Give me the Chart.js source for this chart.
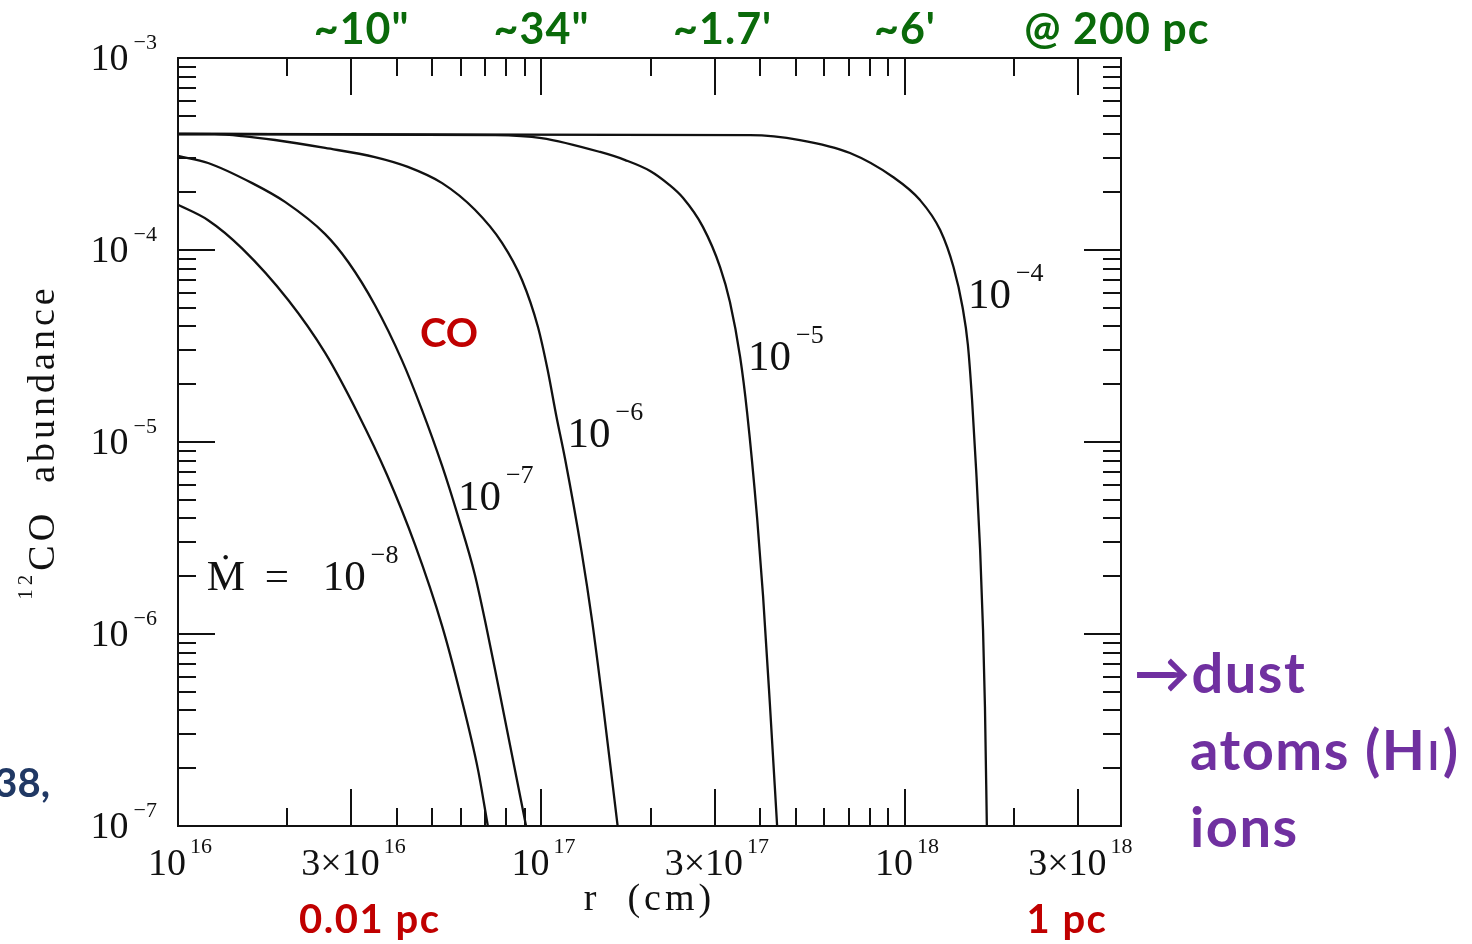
<!DOCTYPE html>
<html>
<head>
<meta charset="utf-8">
<title>12CO abundance vs radius</title>
<script src="https://cdn.jsdelivr.net/npm/chart.js@4.4.1/dist/chart.umd.min.js"></script>
<style>
  html, body { margin: 0; padding: 0; background: #ffffff; }
  #wrap { position: relative; width: 1472px; height: 944px; }
</style>
</head>
<body>
<div id="wrap"><canvas id="chart" width="1472" height="944"></canvas></div>
<script>
// Radius r (cm) and 12CO fractional abundance, one pair of arrays per mass-loss rate
const radius_m8 = [1.00e16, 1.21e16, 1.50e16, 2.01e16, 2.54e16, 3.13e16, 3.76e16, 4.49e16, 5.33e16, 5.97e16, 6.69e16, 7.12e16];
const abund_m8  = [1.72e-4, 1.43e-4, 1.02e-4, 5.49e-5, 2.91e-5, 1.40e-5, 6.73e-6, 2.91e-6, 1.10e-6, 4.93e-7, 1.96e-7, 1.00e-7];

const radius_m7 = [1.00e16, 1.21e16, 1.60e16, 1.97e16, 2.54e16, 2.94e16, 3.48e16, 4.13e16, 4.69e16, 5.33e16, 5.89e16, 6.56e16, 7.08e16, 7.55e16, 9.07e16];
const abund_m7  = [3.09e-4, 2.84e-4, 2.23e-4, 1.78e-4, 1.21e-4, 8.66e-5, 5.17e-5, 2.67e-5, 1.47e-5, 7.50e-6, 4.12e-6, 2.03e-6, 1.05e-6, 5.76e-7, 1.00e-7];

const radius_m6 = [1.00e16, 1.26e16, 1.50e16, 1.85e16, 2.54e16, 3.48e16, 4.29e16, 5.33e16, 6.56e16, 7.79e16, 8.84e16, 9.78e16, 1.04e17, 1.10e17, 1.16e17, 1.29e17, 1.38e17, 1.48e17, 1.62e17];
const abund_m6  = [4.02e-4, 4.01e-4, 3.92e-4, 3.74e-4, 3.40e-4, 3.05e-4, 2.71e-4, 2.23e-4, 1.62e-4, 1.09e-4, 6.98e-5, 3.97e-5, 2.37e-5, 1.35e-5, 8.25e-6, 2.67e-6, 1.15e-6, 4.12e-7, 1.00e-7];

const radius_m5 = [1.00e16, 7.45e16, 1.00e17, 1.45e17, 1.70e17, 1.99e17, 2.23e17, 2.45e17, 2.78e17, 3.10e17, 3.30e17, 3.52e17, 3.68e17, 3.92e17, 4.07e17, 4.25e17, 4.45e17];
const abund_m5  = [4.02e-4, 3.97e-4, 3.83e-4, 3.24e-4, 2.94e-4, 2.58e-4, 2.21e-4, 1.87e-4, 1.32e-4, 8.15e-5, 5.36e-5, 2.77e-5, 1.42e-5, 4.02e-6, 1.58e-6, 4.32e-7, 1.00e-7];

const radius_m4 = [1.00e16, 3.75e17, 5.14e17, 7.06e17, 9.27e17, 1.10e18, 1.25e18, 1.36e18, 1.44e18, 1.49e18, 1.53e18, 1.57e18, 1.61e18, 1.64e18, 1.66e18, 1.68e18];
const abund_m4  = [4.02e-4, 3.97e-4, 3.74e-4, 3.20e-4, 2.40e-4, 1.82e-4, 1.27e-4, 8.15e-5, 5.05e-5, 3.20e-5, 1.65e-5, 7.15e-6, 2.74e-6, 1.05e-6, 4.17e-7, 1.00e-7];

// Curve labels: exponent of the mass-loss rate and where each label starts (r, abundance)
const rateExponents = ['\u22128', '\u22127', '\u22126', '\u22125', '\u22124'];
const rateLabelR    = [1.20e16, 5.89e16, 1.18e17, 3.70e17, 1.49e18];
const rateLabelA    = [1.69e-6, 4.43e-6, 9.42e-6, 2.37e-5, 4.99e-5];

// Axis ranges and ticks
const rMin = 1e16, rMax = 3.93e18;
const aMin = 1e-7, aMax = 1e-3;
const rLongTicks  = [1e16, 3e16, 1e17, 3e17, 1e18, 3e18];
const rShortTicks = [2e16, 4e16, 5e16, 6e16, 7e16, 8e16, 9e16, 2e17, 4e17, 5e17, 6e17, 7e17, 8e17, 9e17, 2e18];
const rTickBase   = ['10', '3\u00d710', '10', '3\u00d710', '10', '3\u00d710'];
const rTickExp    = ['16', '16', '17', '17', '18', '18'];
const aLongTicks  = [1e-7, 1e-6, 1e-5, 1e-4, 1e-3];
const aShortTicks = [2e-7, 3e-7, 4e-7, 5e-7, 6e-7, 7e-7, 8e-7, 9e-7,
                     2e-6, 3e-6, 4e-6, 5e-6, 6e-6, 7e-6, 8e-6, 9e-6,
                     2e-5, 3e-5, 4e-5, 5e-5, 6e-5, 7e-5, 8e-5, 9e-5,
                     2e-4, 3e-4, 4e-4, 5e-4, 6e-4, 7e-4, 8e-4, 9e-4];
const aTickExp    = ['\u22127', '\u22126', '\u22125', '\u22124', '\u22123'];

// Angular size of the radius at 200 pc, shown along the top
const angularText = ['~10"', '~34"', '~1.7\'', '~6\'', '@ 200 pc'];
const angularAtR  = [3.2e16, 1.0e17, 3.15e17, 1.0e18, 3.83e18];

// Physical scale marks under the axis
const parsecText = ['0.01 pc', '1 pc'];
const parsecAtR  = [3.37e16, 2.79e18];

const INK = '#111111';
const SERIF = '"Liberation Serif", "DejaVu Serif", serif';
const SANS = 'Lato, "Open Sans", "Noto Sans", sans-serif';

function pts(rs, as) { return rs.map((r, i) => ({ x: r, y: as[i] })); }

// Base text followed by a raised exponent
function powText(ctx, base, exp, x, y, baseFont, expFont, rise, gap, align) {
  ctx.font = baseFont; const wb = ctx.measureText(base).width;
  ctx.font = expFont;  const we = ctx.measureText(exp).width;
  const total = wb + gap + we;
  let x0 = x;
  if (align === 'center') x0 = x - total / 2;
  else if (align === 'right') x0 = x - total;
  ctx.textAlign = 'left';
  ctx.textBaseline = 'alphabetic';
  ctx.font = baseFont; ctx.fillText(base, x0, y);
  ctx.font = expFont;  ctx.fillText(exp, x0 + wb + gap, y - rise);
}

const framePlugin = {
  id: 'frameAndText',
  afterDatasetsDraw(chart) {
    const { ctx, chartArea: a, scales: { x, y } } = chart;
    ctx.save();
    ctx.strokeStyle = INK;
    ctx.fillStyle = INK;
    ctx.lineWidth = 2;
    ctx.lineCap = 'butt';

    // plot frame
    ctx.strokeRect(a.left, a.top, a.right - a.left, a.bottom - a.top);

    // ticks on all four sides, pointing inward
    const LONG = 37, SHORT = 18;
    ctx.beginPath();
    const xTick = (v, len) => {
      const px = Math.round(x.getPixelForValue(v));
      ctx.moveTo(px, a.bottom); ctx.lineTo(px, a.bottom - len);
      ctx.moveTo(px, a.top);    ctx.lineTo(px, a.top + len);
    };
    const yTick = (v, len) => {
      const py = Math.round(y.getPixelForValue(v));
      ctx.moveTo(a.left, py);  ctx.lineTo(a.left + len, py);
      ctx.moveTo(a.right, py); ctx.lineTo(a.right - len, py);
    };
    rLongTicks.forEach(v => xTick(v, LONG));
    rShortTicks.forEach(v => xTick(v, SHORT));
    aLongTicks.forEach(v => yTick(v, LONG));
    aShortTicks.forEach(v => yTick(v, SHORT));
    ctx.stroke();

    // tick labels
    const tickBase = '38px ' + SERIF, tickExp = '22px ' + SERIF;
    rLongTicks.forEach((v, i) => {
      powText(ctx, rTickBase[i], rTickExp[i], x.getPixelForValue(v) + 2, a.bottom + 49,
              tickBase, tickExp, 22, 4, 'center');
    });
    aLongTicks.forEach((v, i) => {
      powText(ctx, '10', aTickExp[i], a.left - 21, y.getPixelForValue(v) + 12,
              tickBase, tickExp, 21, 5, 'right');
    });

    // axis titles
    ctx.letterSpacing = '4px';
    ctx.font = '38px ' + SERIF;
    ctx.textAlign = 'center';
    ctx.textBaseline = 'alphabetic';
    ctx.fillText('r  (cm)', (a.left + a.right) / 2, a.bottom + 84);

    ctx.save();
    ctx.translate(54, (a.top + a.bottom) / 2);
    ctx.rotate(-Math.PI / 2);
    ctx.font = '21px ' + SERIF;
    const wSup = ctx.measureText('12').width;
    ctx.font = '38px ' + SERIF;
    const wMain = ctx.measureText('CO  abundance').width;
    const start = -(wSup + wMain) / 2;
    ctx.textAlign = 'left';
    ctx.font = '21px ' + SERIF;
    ctx.fillText('12', start, -22);
    ctx.font = '38px ' + SERIF;
    ctx.fillText('CO  abundance', start + wSup, 0);
    ctx.restore();
    ctx.letterSpacing = '0px';

    // curve labels
    const lblBase = '43px ' + SERIF, lblExp = '26px ' + SERIF;
    rateExponents.forEach((e, i) => {
      let px = x.getPixelForValue(rateLabelR[i]);
      const py = y.getPixelForValue(rateLabelA[i]);
      if (i === 0) {
        ctx.font = lblBase; ctx.textAlign = 'left'; ctx.textBaseline = 'alphabetic';
        ctx.fillText('\u1e40', px, py);
        ctx.fillText('=', px + 58, py);
        px += 116;
      }
      powText(ctx, '10', e, px, py, lblBase, lblExp, 27, 5, 'left');
    });

    // coloured annotations
    ctx.textAlign = 'center';
    ctx.textBaseline = 'alphabetic';
    ctx.fillStyle = '#0a6a0a';
    ctx.letterSpacing = '1px';
    ctx.font = 'bold 43px ' + SANS;
    angularText.forEach((t, i) => ctx.fillText(t, x.getPixelForValue(angularAtR[i]), 44));

    ctx.fillStyle = '#c00000';
    ctx.letterSpacing = '0px';
    ctx.font = 'bold 40px ' + SANS;
    ctx.fillText('CO', x.getPixelForValue(5.57e16), y.getPixelForValue(3.74e-5) + 15);
    ctx.letterSpacing = '1.5px';
    parsecText.forEach((t, i) => ctx.fillText(t, x.getPixelForValue(parsecAtR[i]), 933));

    ctx.fillStyle = '#203864';
    ctx.textAlign = 'right';
    ctx.letterSpacing = '0px';
    ctx.font = 'bold 40px ' + SANS;
    ctx.fillText('38,', 50, 797);

    ctx.fillStyle = '#7030a0';
    ctx.textAlign = 'left';
    ctx.letterSpacing = '1.5px';
    ctx.font = 'bold 56px ' + SANS;
    ctx.fillText('\u2192dust', 1134, 693);
    ctx.fillText('ions', 1190, 847);
    const t1 = 'atoms (H';
    ctx.fillText(t1, 1190, 770);
    const w1 = ctx.measureText(t1).width;
    ctx.font = 'bold 40px ' + SANS;
    ctx.fillText('I', 1190 + w1 + 1, 770);
    const w2 = ctx.measureText('I').width;
    ctx.font = 'bold 56px ' + SANS;
    ctx.fillText(')', 1190 + w1 + w2 + 3, 770);

    ctx.restore();
  }
};

const series = [
  [radius_m8, abund_m8],
  [radius_m7, abund_m7],
  [radius_m6, abund_m6],
  [radius_m5, abund_m5],
  [radius_m4, abund_m4]
];

new Chart(document.getElementById('chart').getContext('2d'), {
  type: 'line',
  data: {
    datasets: series.map(([rs, as], i) => ({
      label: '10' + rateExponents[i],
      data: pts(rs, as),
      borderColor: INK,
      borderWidth: 2.3,
      pointRadius: 0,
      fill: false,
      cubicInterpolationMode: 'monotone'
    }))
  },
  options: {
    responsive: false,
    animation: false,
    devicePixelRatio: 1,
    layout: { padding: { left: 178, right: 351, top: 58, bottom: 118 } },
    plugins: { legend: { display: false }, tooltip: { enabled: false } },
    scales: {
      x: { type: 'logarithmic', min: rMin, max: rMax, display: false },
      y: { type: 'logarithmic', min: aMin, max: aMax, display: false }
    }
  },
  plugins: [framePlugin]
});
</script>
</body>
</html>
